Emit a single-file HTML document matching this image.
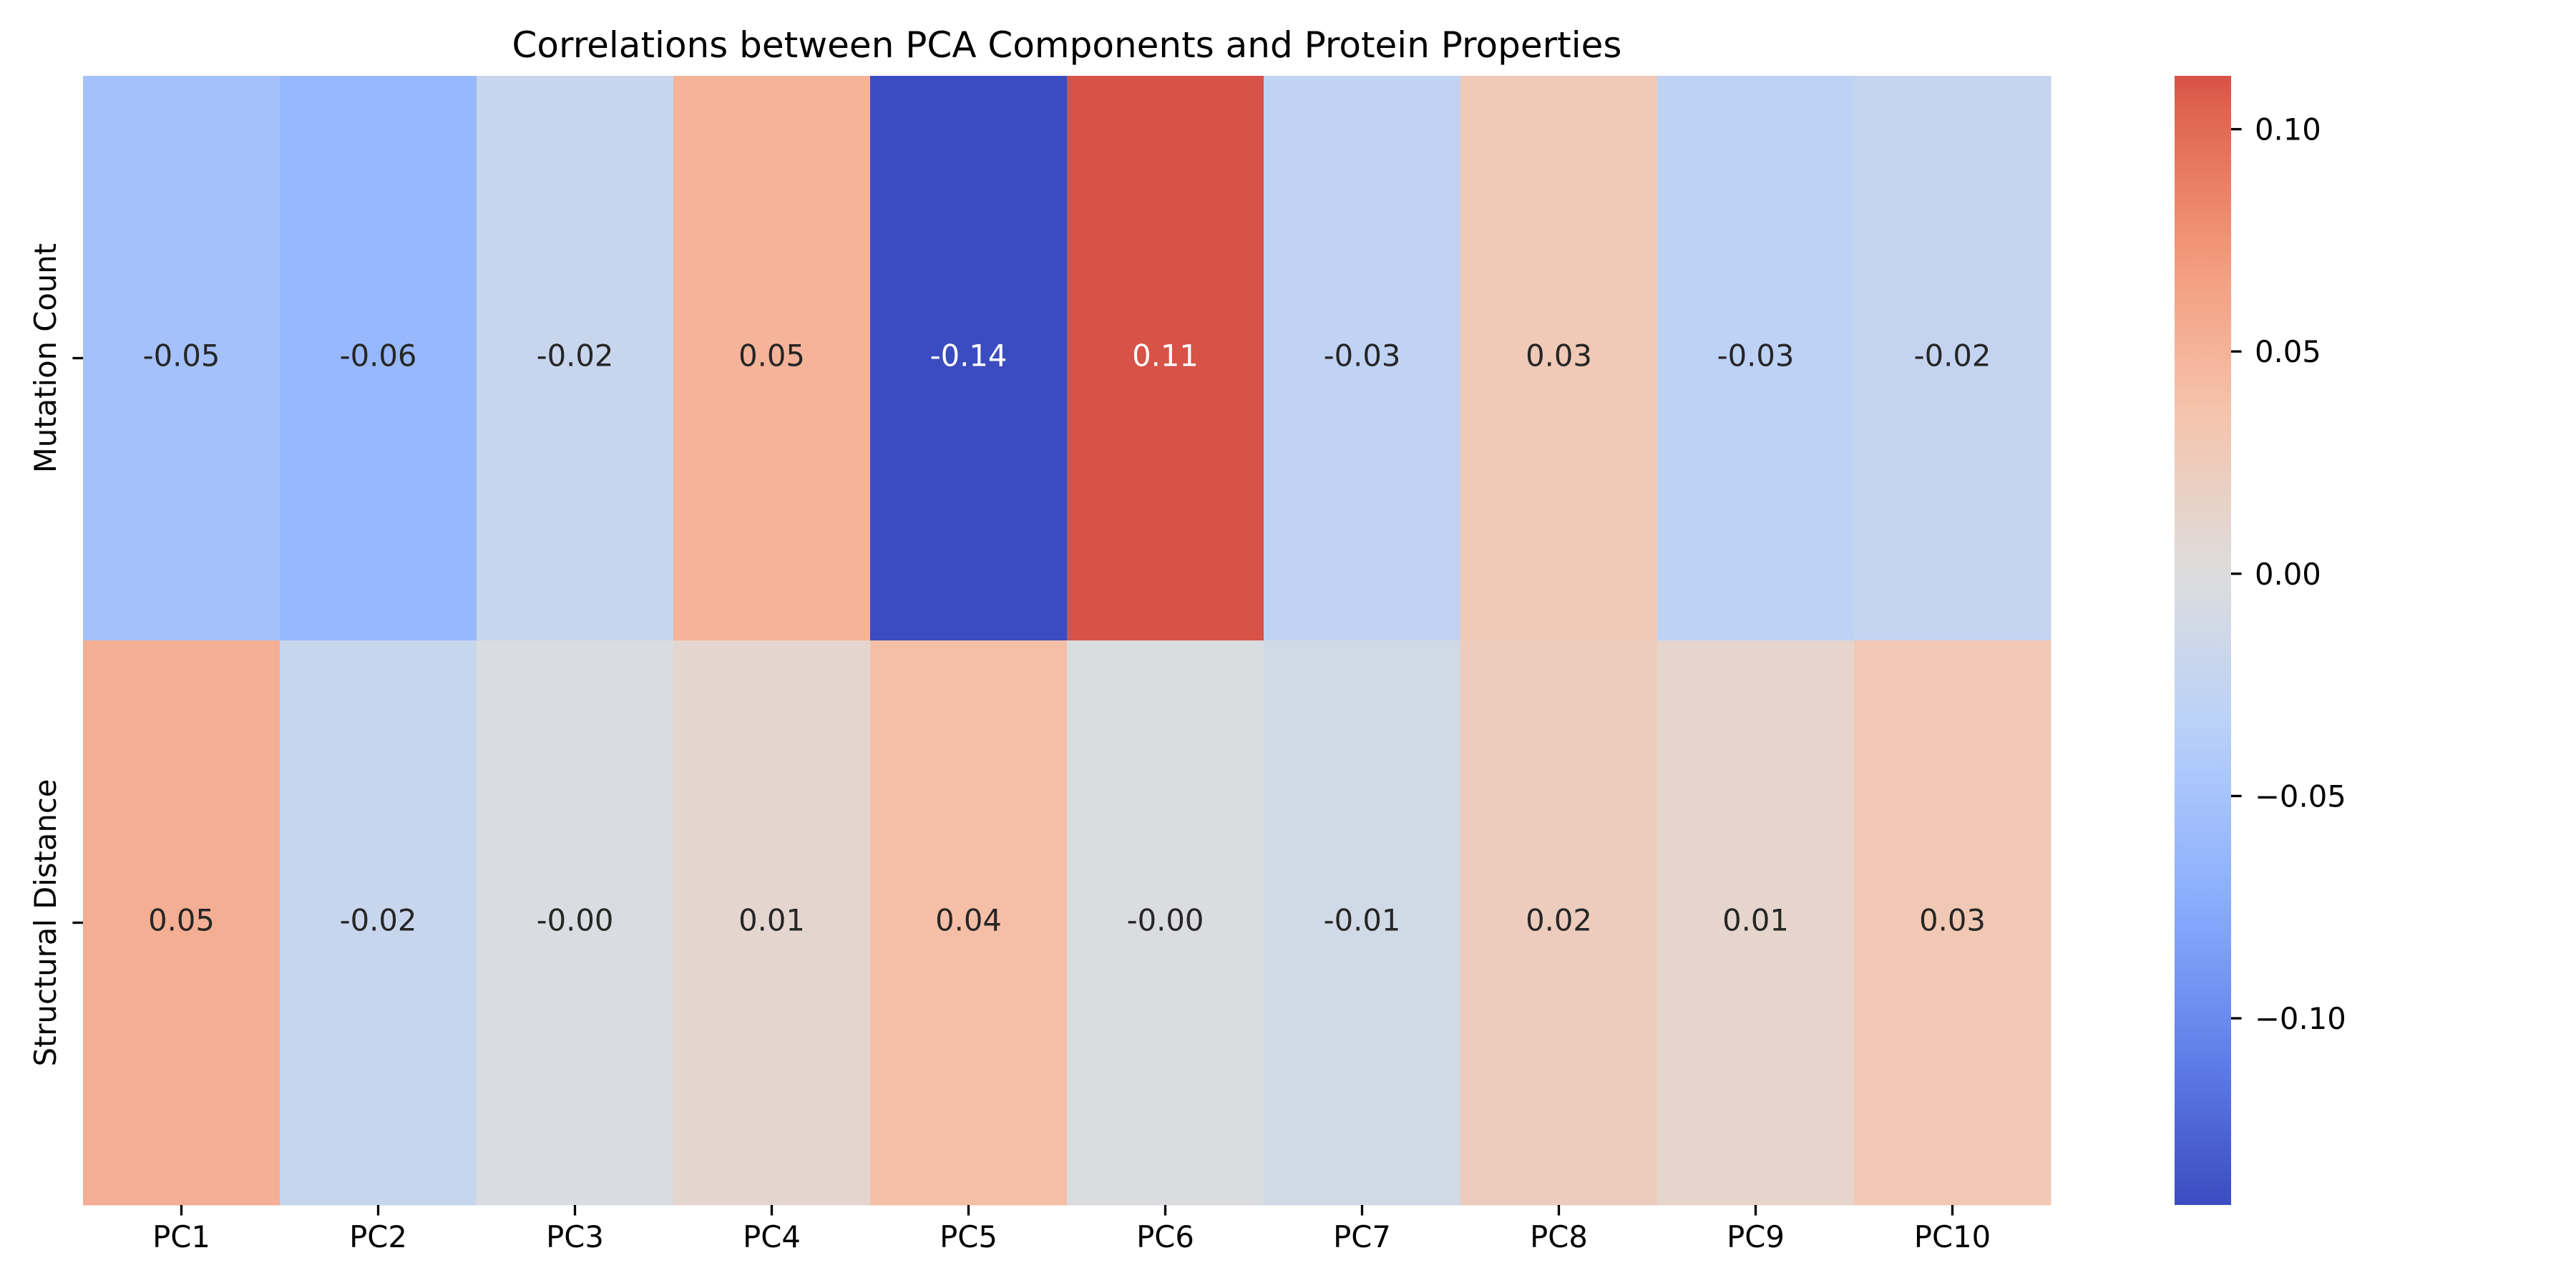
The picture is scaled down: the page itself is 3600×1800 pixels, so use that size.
<!DOCTYPE html>
<html><head><meta charset="utf-8"><style>
html,body{margin:0;padding:0;background:#fff;}
svg{display:block;font-family:"DejaVu Sans","Liberation Sans",sans-serif;}
</style></head><body>
<svg id="chart" width="3600" height="1800" viewBox="0 0 3600 1800" xmlns="http://www.w3.org/2000/svg">
<defs>
<linearGradient id="cbgrad" x1="0" y1="1" x2="0" y2="0"></linearGradient>
</defs>
<text x="1491" y="80" font-size="50" text-anchor="middle" fill="#000">Correlations between PCA Components and Protein Properties</text>
<g id="cells"></g>
<g id="xaxis"></g>
<g id="yaxis"></g>
<g id="colorbar"></g>
</svg>
<script>
const columns = ["PC1","PC2","PC3","PC4","PC5","PC6","PC7","PC8","PC9","PC10"];
const rows = ["Mutation Count","Structural Distance"];
const mutationCount = [-0.052,-0.062,-0.020,0.050,-0.142,0.112,-0.028,0.028,-0.030,-0.024];
const structuralDistance = [0.054,-0.020,-0.004,0.010,0.040,-0.002,-0.012,0.024,0.012,0.030];
const cbTicks = [0.10,0.05,0.00,-0.05,-0.10];
const cbTickLabels = ["0.10","0.05","0.00","\u22120.05","\u22120.10"];

const NS="http://www.w3.org/2000/svg";
const data=[mutationCount,structuralDistance];
const all=data.flat();
const vmin=Math.min(...all), vmax=Math.max(...all);
const vr=Math.max(vmax,-vmin);
const L=116,R=2866,T=106,B=1684;
const cw=(R-L)/columns.length, rh=(B-T)/rows.length;
const cmap=[[0,59,76,192],[0.125,98,130,234],[0.25,141,176,254],[0.375,184,208,249],[0.5,221,221,221],[0.625,245,196,173],[0.75,244,154,123],[0.875,222,96,77],[1,180,4,38]];
function cw_rgb(t){t=Math.max(0,Math.min(1,t));for(let i=0;i<cmap.length-1;i++){const a=cmap[i],b=cmap[i+1];if(t<=b[0]){const f=(t-a[0])/(b[0]-a[0]);return [0,1,2].map(k=>Math.round(a[k+1]+(b[k+1]-a[k+1])*f));}}return cmap[cmap.length-1].slice(1);}
function colorOf(v){return cw_rgb((v+vr)/(2*vr));}
function rgb(c){return `rgb(${c[0]},${c[1]},${c[2]})`;}
function lum(c){const l=c.map(x=>{x/=255;return x<=0.03928?x/12.92:Math.pow((x+0.055)/1.055,2.4);});return 0.2126*l[0]+0.7152*l[1]+0.0722*l[2];}
function xPos(i){return L+i*cw;}
function yPos(j){return T+j*rh;}
function mk(tag,attrs,parent,text){const e=document.createElementNS(NS,tag);for(const k in attrs)e.setAttribute(k,attrs[k]);if(text!==undefined)e.textContent=text;parent.appendChild(e);return e;}
const cells=document.getElementById('cells');
data.forEach((row,j)=>{row.forEach((v,i)=>{
  const c=colorOf(v);
  const r=mk('rect',{x:xPos(i),y:yPos(j),width:cw+0.5,height:rh+0.5,fill:rgb(c)},cells);
  
  
  const t=mk('text',{x:xPos(i)+cw/2,y:yPos(j)+rh/2+11,'font-size':41.7,'text-anchor':'middle',fill:lum(c)<0.408?'#fff':'#262626'},cells,(Math.abs(v)<0.005?(v<0?'-':'')+'0.00':v.toFixed(2)));
  
  
});});
const xa=document.getElementById('xaxis');
columns.forEach((c,i)=>{const cx=xPos(i)+cw/2;
  const tk=mk('line',{x1:cx,x2:cx,y1:B,y2:B+14.6,stroke:'#000','stroke-width':3.3},xa);
  
  
  const t=mk('text',{x:cx,y:1743,'font-size':41.7,'text-anchor':'middle',fill:'#000'},xa,c);
  
  
});
const ya=document.getElementById('yaxis');
rows.forEach((r,j)=>{const cy=yPos(j)+rh/2;
  const tk=mk('line',{x1:L-14.6,x2:L,y1:cy,y2:cy,stroke:'#000','stroke-width':3.3},ya);
  
  
  const t=mk('text',{x:0,y:0,'font-size':41.7,'text-anchor':'middle',fill:'#000',transform:`translate(78,${cy}) rotate(-90)`},ya,r);
  
  
});
const CL=3039,CR=3118;
const g=document.getElementById('cbgrad');
for(let k=0;k<=40;k++){const f=k/40;const v=vmin+(vmax-vmin)*f;mk('stop',{offset:f,'stop-color':rgb(colorOf(v))},g);}
const cb=document.getElementById('colorbar');
const cbr=mk('rect',{x:CL,y:T,width:CR-CL,height:B-T,fill:'url(#cbgrad)'},cb);


function cbY(v){return B-(v-vmin)/(vmax-vmin)*(B-T);}
cbTicks.forEach((v,k)=>{const y=cbY(v);
  const tk=mk('line',{x1:CR,x2:CR+14.6,y1:y,y2:y,stroke:'#000','stroke-width':3.3},cb);
  
  
  const t=mk('text',{x:CR+33,y:y+15,'font-size':41.7,fill:'#000'},cb,cbTickLabels[k]);
  
  
});
</script>
</body></html>
